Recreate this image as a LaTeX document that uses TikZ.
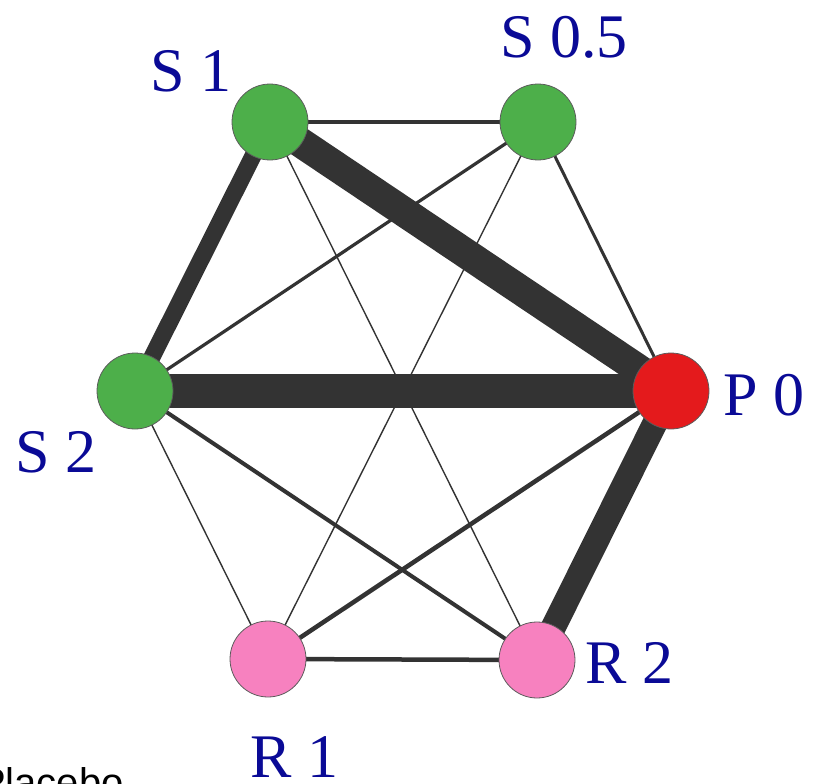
\documentclass[tikz,border=0pt]{standalone}
\usepackage{fontspec}
\setmainfont{Liberation Serif}
\newfontfamily\labelsans{Liberation Sans}
\usetikzlibrary{backgrounds}
\definecolor{edgegray}{RGB}{51,51,51}
\definecolor{sgreen}{RGB}{77,175,74}
\definecolor{pred}{RGB}{228,26,28}
\definecolor{rpink}{RGB}{247,129,191}
\definecolor{labelblue}{RGB}{10,10,150}
\tikzset{
  trt/.style={circle, draw=edgegray!80, line width=0.8pt, minimum size=76pt, inner sep=0pt},
  lbl/.style={anchor=base west, inner sep=0pt, text=labelblue,
              font=\fontsize{62}{70}\selectfont},
  link/.style={draw=edgegray, line cap=butt},
}
\begin{document}
\begin{tikzpicture}[x=1pt, y=-1pt]
\useasboundingbox (0,0) rectangle (815,784);

% treatment nodes
\node[trt, fill=sgreen] (s1)  at (270,122) {};
\node[trt, fill=sgreen] (s05) at (538,122) {};
\node[trt, fill=sgreen] (s2)  at (135,391) {};
\node[trt, fill=pred]   (p0)  at (671,391) {};
\node[trt, fill=rpink]  (r1)  at (268,659) {};
\node[trt, fill=rpink]  (r2)  at (537,660) {};

% comparisons, width by amount of evidence
\begin{pgfonlayer}{background}
\draw[link, line width=34pt]  (s2.center)  -- (p0.center);
\draw[link, line width=30pt]  (s1.center)  -- (p0.center);
\draw[link, line width=25pt]  (p0.center)  -- (r2.center);
\draw[link, line width=17pt]  (s1.center)  -- (s2.center);
\draw[link, line width=3.5pt] (s1.center)  -- (s05.center);
\draw[link, line width=3.2pt] (s05.center) -- (s2.center);
\draw[link, line width=3pt]   (s05.center) -- (p0.center);
\draw[link, line width=4pt]   (s2.center)  -- (r2.center);
\draw[link, line width=4.5pt] (p0.center)  -- (r1.center);
\draw[link, line width=4.5pt] (r1.center)  -- (r2.center);
\draw[link, line width=1.4pt] (s1.center)  -- (r2.center);
\draw[link, line width=1.4pt] (s05.center) -- (r1.center);
\draw[link, line width=1.4pt] (s2.center)  -- (r1.center);
\end{pgfonlayer}

% treatment labels
\node[lbl] (ls1)  at (150,92)  {S 1};
\node[lbl] (ls05) at (500,58)  {S 0.5};
\node[lbl] (ls2)  at (15,472)  {S 2};
\node[lbl] (lp0)  at (723,415) {P 0};
\node[lbl] (lr2)  at (585,683) {R 2};
\node[lbl] (lr1)  at (250,777) {R 1};

% legend entry
\node[anchor=base west, inner sep=0pt, font=\labelsans\fontsize{40}{48}\selectfont] (leg) at (-21,796) {Placebo};
\end{tikzpicture}
\end{document}
